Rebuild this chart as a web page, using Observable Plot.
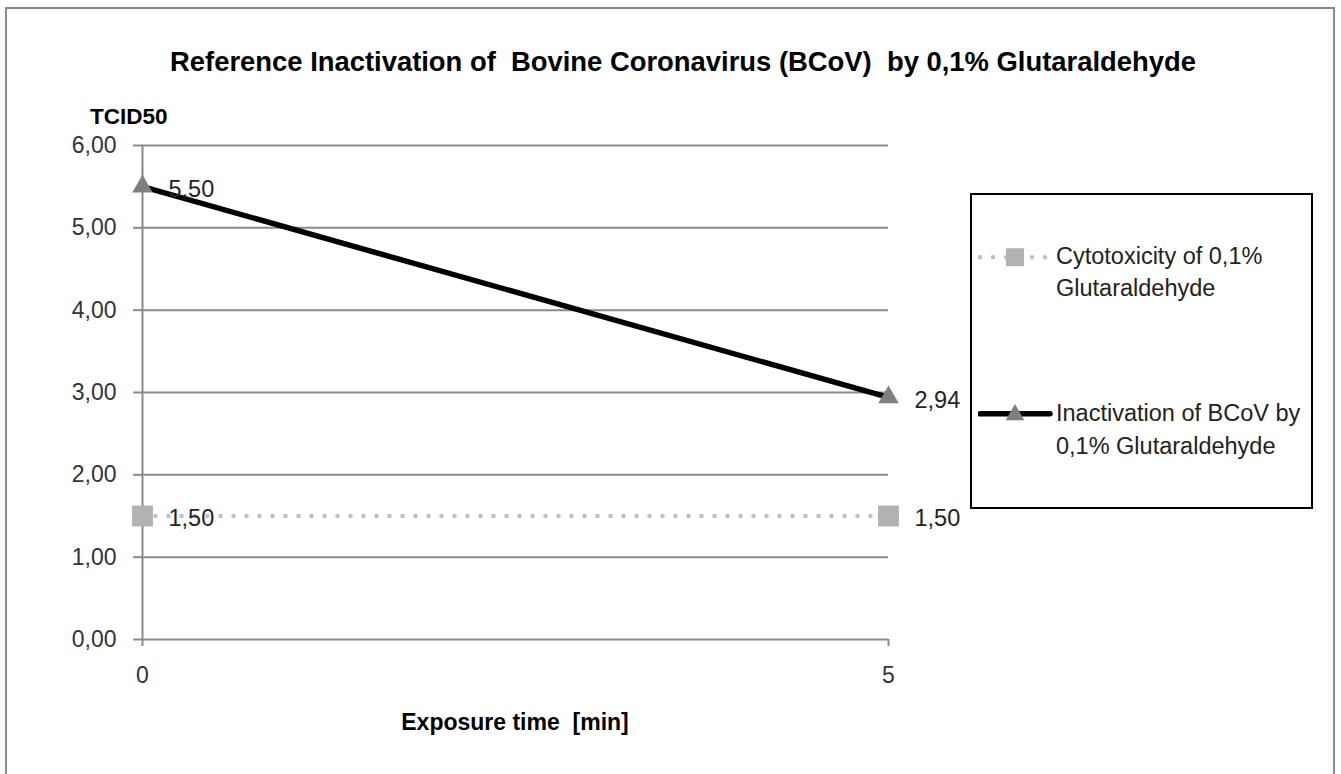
<!DOCTYPE html>
<html>
<head>
<meta charset="utf-8">
<script src="https://cdn.jsdelivr.net/npm/d3@7"></script>
<script src="https://cdn.jsdelivr.net/npm/@observablehq/plot@0.6"></script>
<style>
  html, body { margin: 0; padding: 0; background: #fff; }
  #wrap { position: relative; width: 1341px; height: 774px; overflow: hidden; font-family: "Liberation Sans", Arial, sans-serif; color: #333; }
  #chart { position: absolute; left: 0; top: 0; }
  .frame { position: absolute; left: 5px; top: 7px; width: 1326px; height: 820px; border: 2px solid #8a8a8a; pointer-events: none; }
  .txt { position: absolute; white-space: pre; line-height: 1; }
  #title { left: 0; width: 1366px; top: 47.5px; text-align: center; font-weight: bold; font-size: 27.4px; color: #000; }
  #ylab { left: 90px; top: 106px; font-weight: bold; font-size: 22.5px; color: #000; }
  #xlab { left: 315px; width: 400px; top: 710.5px; text-align: center; font-weight: bold; font-size: 23px; color: #000; }
  #legend { position: absolute; left: 970px; top: 193px; width: 339px; height: 312px; border: 2px solid #000; background: #fff; }
  .entry { position: absolute; left: 6px; }
  .entry svg { position: absolute; left: 0; top: 0; }
  .entry .lab { position: absolute; left: 78px; top: 0; font-size: 23.5px; line-height: 32.7px; color: #222; white-space: pre; }
</style>
</head>
<body>
<div id="wrap">
  <div id="chart"></div>
  <div class="txt" id="title"></div>
  <div class="txt" id="ylab"></div>
  <div class="txt" id="xlab"></div>
  <div id="legend"></div>
  <div class="frame"></div>
</div>
<script>
// ---- data ----
const titleText = "Reference Inactivation of  Bovine Coronavirus (BCoV)  by 0,1% Glutaraldehyde";
const yAxisTitle = "TCID50";
const xAxisTitle = "Exposure time  [min]";
const times = [0, 5];
const cytotoxicity = [1.50, 1.50];
const inactivation = [5.50, 2.94];
const yTicks = [0, 1, 2, 3, 4, 5, 6];
const xTicks = [0, 5];
const seriesNames = ["Cytotoxicity of 0,1%\nGlutaraldehyde", "Inactivation of BCoV by\n0,1% Glutaraldehyde"];

// ---- build ----
const fmt = v => v.toFixed(2).replace(".", ",");
const cyto = times.map((t, i) => ({t, v: cytotoxicity[i]}));
const inact = times.map((t, i) => ({t, v: inactivation[i]}));

const gridColor = "#8a8a8a";
const chart = Plot.plot({
  width: 1341,
  height: 774,
  marginLeft: 142,
  marginRight: 453,
  marginTop: 145,
  marginBottom: 135,
  style: {background: "transparent", fontFamily: "Liberation Sans, Arial, sans-serif", color: "#333"},
  x: {domain: [0, 5]},
  y: {domain: [0, 6]},
  marks: [
    Plot.gridY(yTicks, {stroke: gridColor, strokeOpacity: 1, strokeWidth: 2}),
    Plot.ruleX([0], {y1: 0, y2: 6, stroke: gridColor, strokeWidth: 2}),
    Plot.axisY({ticks: yTicks, tickFormat: fmt, tickSize: 9, tickPadding: 17, fontSize: 23, stroke: gridColor, strokeWidth: 2, fill: "#333", label: null}),
    Plot.axisX({ticks: xTicks, tickFormat: d => String(d), tickSize: 7, tickPadding: 20, fontSize: 23, stroke: gridColor, strokeWidth: 2, fill: "#333", label: null}),
    Plot.line(cyto, {x: "t", y: "v", stroke: "#bfbfbf", strokeWidth: 4.5, strokeDasharray: "0 13", strokeLinecap: "round"}),
    Plot.line(inact, {x: "t", y: "v", stroke: "#000", strokeWidth: 5.5}),
    Plot.dot(cyto, {x: "t", y: "v", symbol: "square", r: 11.8, fill: "#b2b2b2", stroke: null}),
    Plot.dot(inact, {x: "t", y: "v", symbol: "triangle", r: 7.6, fill: "#7f7f7f", stroke: null}),
    Plot.text(cyto, {x: "t", y: "v", text: d => fmt(d.v), dx: 26, dy: 2, textAnchor: "start", fontSize: 23.5, fill: "#222"}),
    Plot.text(inact, {x: "t", y: "v", text: d => fmt(d.v), dx: 26, dy: 3, textAnchor: "start", fontSize: 23.5, fill: "#222"})
  ]
});
document.getElementById("chart").appendChild(chart);

document.getElementById("title").textContent = titleText;
document.getElementById("ylab").textContent = yAxisTitle;
document.getElementById("xlab").textContent = xAxisTitle;

// legend
const legend = document.getElementById("legend");
const entryTops = [44.5, 202.2];
const swatchCy = [17.2, 16.8];
seriesNames.forEach((name, i) => {
  const e = document.createElement("div");
  e.className = "entry";
  e.style.top = entryTops[i] + "px";
  const svg = d3.create("svg").attr("width", 80).attr("height", 36);
  const cy = swatchCy[i];
  if (i === 0) {
    svg.append("line").attr("x1", 2).attr("x2", 72).attr("y1", cy).attr("y2", cy)
      .attr("stroke", "#bfbfbf").attr("stroke-width", 4.5).attr("stroke-dasharray", "0 13").attr("stroke-linecap", "round");
    svg.append("rect").attr("x", 28).attr("y", cy - 9).attr("width", 18).attr("height", 18).attr("fill", "#b2b2b2");
  } else {
    svg.append("line").attr("x1", 2).attr("x2", 72).attr("y1", cy).attr("y2", cy)
      .attr("stroke", "#000").attr("stroke-width", 5.5).attr("stroke-linecap", "round");
    svg.append("path").attr("d", d3.symbol(d3.symbolTriangle, 150)()).attr("transform", `translate(37,${cy + 1})`).attr("fill", "#7f7f7f");
  }
  e.appendChild(svg.node());
  const lab = document.createElement("div");
  lab.className = "lab";
  lab.textContent = name;
  e.appendChild(lab);
  legend.appendChild(e);
});
</script>
</body>
</html>
